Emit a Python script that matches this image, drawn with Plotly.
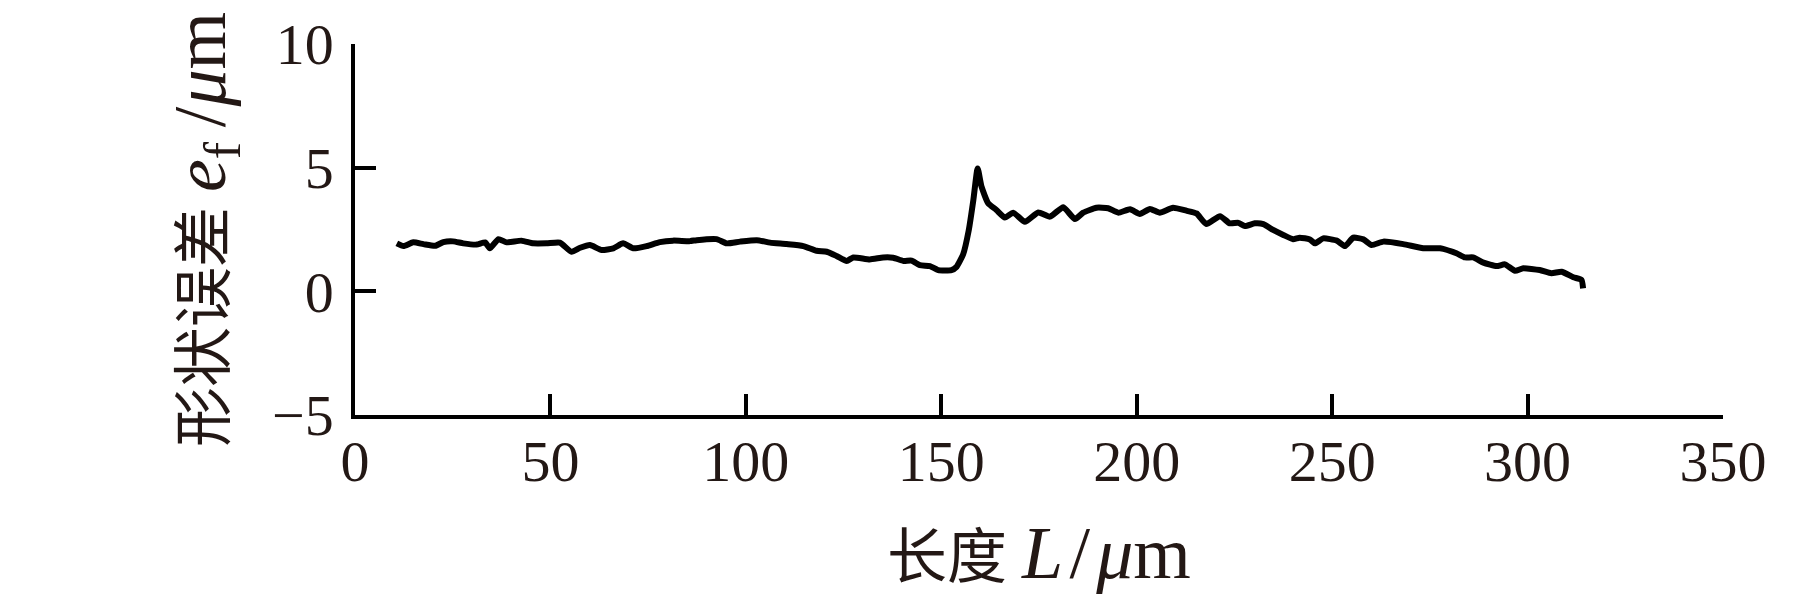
import plotly.graph_objects as go

length_um = [10.7, 12.4, 14.9, 17.5, 20.5, 22.6, 25.1, 27.7, 31.1, 33.3, 34.5, 36.7, 38.8, 42.6, 45.6,
             49.0, 52.4, 55.4, 57.6, 60.1, 63.1, 66.1, 68.6, 71.2, 74.6, 78.0, 81.4, 85.7, 87.4, 92.5,
             95.1, 98.5, 102.8, 106.2, 110.4, 114.7, 118.1, 120.7, 123.2, 125.8, 127.5, 131.7, 135.1,
             137.7, 140.3, 142.4, 144.5, 147.1, 149.2, 152.6, 153.9, 155.6, 157.0, 158.2, 159.3, 160.3,
             162.0, 164.1, 166.3, 168.4, 171.4, 174.8, 177.8, 181.2, 184.2, 186.3, 189.7, 192.7, 195.3,
             198.3, 200.8, 203.4, 205.9, 209.3, 212.7, 215.3, 217.8, 221.3, 223.8, 226.0, 227.7, 230.2,
             232.4, 234.9, 237.5, 240.0, 241.7, 244.3, 245.6, 247.7, 251.2, 253.3, 255.4, 258.0, 260.1,
             263.1, 268.2, 273.3, 277.6, 281.8, 284.0, 286.1, 288.7, 292.1, 294.2, 296.8, 298.9, 303.1,
             306.1, 308.7, 311.7, 313.8, 314.2]
form_error_um = [1.94, 1.83, 1.98, 1.91, 1.84, 1.99, 2.02, 1.94, 1.89, 1.98, 1.74, 2.11, 1.98, 2.05, 1.94,
                 1.94, 1.97, 1.60, 1.76, 1.87, 1.67, 1.74, 1.94, 1.74, 1.83, 1.99, 2.05, 2.03, 2.07, 2.11,
                 1.94, 2.01, 2.07, 1.97, 1.91, 1.83, 1.64, 1.60, 1.43, 1.23, 1.37, 1.29, 1.37,
                 1.36, 1.23, 1.24, 1.06, 1.02, 0.86, 0.86, 0.99, 1.50, 2.45, 3.69, 4.97, 4.23,
                 3.56, 3.29, 2.98, 3.18, 2.81, 3.19, 3.02, 3.40, 2.92, 3.18, 3.38, 3.36, 3.18,
                 3.32, 3.13, 3.33, 3.18, 3.38, 3.26, 3.15, 2.72, 3.04, 2.75, 2.77, 2.64, 2.75,
                 2.72, 2.48, 2.28, 2.11, 2.17, 2.10, 1.94, 2.14, 2.05, 1.83, 2.17, 2.10, 1.87,
                 2.01, 1.91, 1.74, 1.74, 1.54, 1.37, 1.37, 1.16, 1.02, 1.09, 0.83, 0.93, 0.86,
                 0.73, 0.79, 0.57, 0.46, 0.12]

x_ticks = [0, 50, 100, 150, 200, 250, 300, 350]
y_ticks = [-5, 0, 5, 10]
y_tick_text = ["\u22125", "0", "5", "10"]

latin = '<span style="font-size:74px">{}</span>'
x_title = "长度 " + latin.format("<i>L</i>\u200a/\u200a<i>μ</i>m")
y_title = "形状误差 " + latin.format("<i>e</i><sub>f</sub>\u2009/<i>μ</i>m")

serif = "Liberation Serif, Noto Sans CJK SC, serif"
text_color = "#231815"

fig = go.Figure()
fig.add_trace(go.Scatter(x=length_um, y=form_error_um, mode="lines",
                         line=dict(color="black", width=6, shape="spline", smoothing=0.5),
                         showlegend=False))

axis_common = dict(showline=True, linecolor="black", linewidth=3.5, ticks="inside",
                   ticklen=21, tickwidth=3.5, tickcolor="black", showgrid=False, zeroline=False,
                   automargin=False,
                   tickfont=dict(family=serif, size=58, color=text_color), mirror=False)

fig.update_layout(
    template="none",
    width=1819, height=598,
    margin=dict(l=347, r=104, t=36, b=191),
    paper_bgcolor="white", plot_bgcolor="white",
    xaxis=dict(range=[0, 350], tickvals=x_ticks, ticktext=[str(v) for v in x_ticks],
               title=dict(text=x_title, font=dict(family=serif, size=60, color=text_color), standoff=44),
               **axis_common),
    yaxis=dict(range=[-5, 10], tickvals=y_ticks, ticktext=y_tick_text,
               title=dict(text=y_title, font=dict(family=serif, size=60, color=text_color), standoff=28),
               **axis_common),
)

try:
    fig.update_xaxes(ticklabelstandoff=-7)
except Exception:
    pass
try:
    fig.update_yaxes(ticklabelstandoff=6)
except Exception:
    pass

fig.write_html("out.html")
